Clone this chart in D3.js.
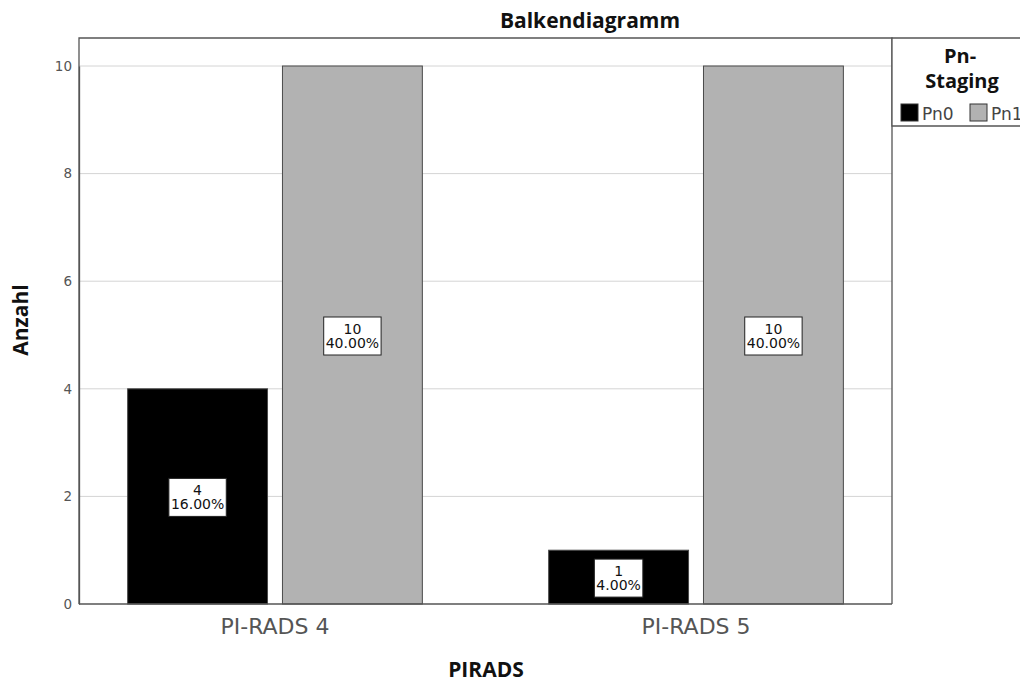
<!DOCTYPE html>
<html><head><meta charset="utf-8">
<script src="https://cdn.jsdelivr.net/npm/d3@7"></script>
<style>body{margin:0;background:#fff}svg{display:block}</style>
</head><body>
<svg id="c" width="1020" height="684"></svg>
<script>
const categories = ["PI-RADS 4", "PI-RADS 5"];
const seriesNames = ["Pn0", "Pn1"];
const pn0Values = [4, 1];
const pn1Values = [10, 10];
const pn0Pct = ["16.00%", "4.00%"];
const pn1Pct = ["40.00%", "40.00%"];
const yTicks = [0, 2, 4, 6, 8, 10];
const colors = ["#000000", "#b2b2b2"];

const svg = d3.select("#c");
const L = 79, R = 892, T = 38, B = 604;
const y = d3.scaleLinear().domain([0, 10]).range([B, 66]);
const x = d3.scaleBand().domain(categories).range([L, R]).paddingInner(0.3).paddingOuter(0.1155);
const xs = d3.scaleBand().domain(seriesNames).range([0, x.bandwidth()]).paddingInner(0.0965).paddingOuter(0);

// gridlines
svg.append("g").selectAll("line").data(yTicks.filter(d => d > 0)).join("line")
  .attr("x1", L).attr("x2", R).attr("y1", d => y(d)).attr("y2", d => y(d))
  .attr("stroke", "#d4d4d4").attr("stroke-width", 1);

// bars
const data = [];
categories.forEach((c, i) => {
  data.push({c, s: "Pn0", v: pn0Values[i], p: pn0Pct[i], col: colors[0]});
  data.push({c, s: "Pn1", v: pn1Values[i], p: pn1Pct[i], col: colors[1]});
});
svg.append("g").selectAll("rect").data(data).join("rect")
  .attr("x", d => x(d.c) + xs(d.s)).attr("width", xs.bandwidth())
  .attr("y", d => y(d.v)).attr("height", d => y(0) - y(d.v))
  .attr("fill", d => d.col).attr("stroke", "#4a4a4a").attr("stroke-width", 1);

// frame
svg.append("path").attr("d", `M${L},${B}V${T}H${R}V${B}`).attr("fill", "none").attr("stroke", "#555").attr("stroke-width", 1.3);

// y axis
const yAxis = d3.axisLeft(y).tickValues(yTicks).tickSize(0).tickPadding(7).tickFormat(d3.format("d"));
const ya = svg.append("g").attr("transform", `translate(${L},0)`).call(yAxis);
ya.select(".domain").attr("stroke", "#555").attr("stroke-width", 1.3);
ya.selectAll("text").attr("font-family", "DejaVu Sans").attr("font-size", 13.5).attr("fill", "#555");

// x axis
const xAxis = d3.axisBottom(x).tickSize(0).tickPadding(14);
const xa = svg.append("g").attr("transform", `translate(0,${B})`).call(xAxis);
xa.select(".domain").attr("d", `M${L},0H${R}`).attr("stroke", "#555").attr("stroke-width", 1.5);
xa.selectAll("text").attr("font-family", "DejaVu Sans").attr("font-size", 22).attr("fill", "#555");

// value labels
const lab = svg.append("g").selectAll("g").data(data).join("g")
  .attr("transform", d => `translate(${x(d.c) + xs(d.s) + xs.bandwidth() / 2},${y(d.v / 2)})`);
lab.each(function(d) {
  const g = d3.select(this);
  const rect = g.append("rect").attr("fill", "#fff").attr("stroke", "#222").attr("stroke-width", 1);
  const t = g.append("text").attr("text-anchor", "middle").attr("font-family", "DejaVu Sans")
    .attr("font-size", 14).attr("fill", "#111");
  t.append("tspan").attr("x", 0).attr("y", -1).text(d.v);
  t.append("tspan").attr("x", 0).attr("y", 13).text(d.p);
  const bb = t.node().getBBox();
  rect.attr("x", bb.x - 2).attr("y", -18).attr("width", bb.width + 4).attr("height", 38);
});

// title and axis titles
svg.append("text").attr("x", 590).attr("y", 28).attr("text-anchor", "middle")
  .attr("font-family", "Open Sans").attr("font-weight", "bold").attr("font-size", 21).attr("fill", "#111").text("Balkendiagramm");
svg.append("text").attr("transform", "translate(28,320) rotate(-90)").attr("text-anchor", "middle")
  .attr("font-family", "Open Sans").attr("font-weight", "bold").attr("font-size", 21).attr("fill", "#111").text("Anzahl");
svg.append("text").attr("x", 486).attr("y", 677).attr("text-anchor", "middle")
  .attr("font-family", "Open Sans").attr("font-weight", "bold").attr("font-size", 21).attr("fill", "#111").text("PIRADS");

// legend
const lg = svg.append("g");
lg.append("path").attr("d", `M${R},${T}H1021V126H${R}Z`).attr("fill", "#fff").attr("stroke", "#555").attr("stroke-width", 1.3);
lg.append("text").attr("x", 960).attr("y", 63).attr("text-anchor", "middle")
  .attr("font-family", "Open Sans").attr("font-weight", "bold").attr("font-size", 20).attr("fill", "#111").text("Pn-");
lg.append("text").attr("x", 962).attr("y", 88).attr("text-anchor", "middle")
  .attr("font-family", "Open Sans").attr("font-weight", "bold").attr("font-size", 20).attr("fill", "#111").text("Staging");
const li = lg.selectAll("g.it").data(seriesNames).join("g").attr("class", "it")
  .attr("transform", (d, i) => `translate(${901 + i * 69},104)`);
li.append("rect").attr("width", 17).attr("height", 17).attr("fill", (d, i) => colors[i]).attr("stroke", "#333");
li.append("text").attr("x", 21).attr("y", 16).attr("font-family", "DejaVu Sans").attr("font-size", 17).attr("fill", "#444").text(d => d);
</script>
</body></html>
